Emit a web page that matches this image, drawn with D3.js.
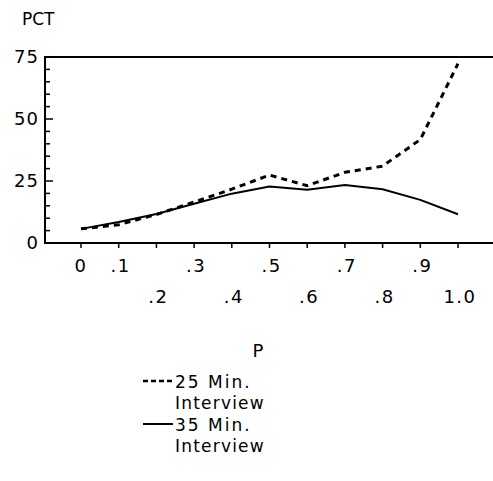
<!DOCTYPE html>
<html>
<head>
<meta charset="utf-8">
<script src="https://cdn.jsdelivr.net/npm/d3@7"></script>
<style>
  body { margin: 0; background: #fff; }
  text { font-family: "DejaVu Sans", sans-serif; fill: #000; }
</style>
</head>
<body>
<div id="myDiv"></div>
<script>
// Chart data
var pValues = [0, .1, .2, .3, .4, .5, .6, .7, .8, .9, 1.0];
var pct25 = [5.7, 7.4, 11.5, 16.5, 21.7, 27.4, 23.1, 28.5, 31.0, 41.7, 72.3];
var pct35 = [5.7, 8.5, 11.7, 15.8, 19.9, 22.8, 21.5, 23.4, 21.7, 17.4, 11.6];
var tickLabels = ["0", ".1", ".2", ".3", ".4", ".5", ".6", ".7", ".8", ".9", "1.0"];
var yTicks = [0, 25, 50, 75];
var seriesNames = ["25 Min.", "35 Min."];

var width = 493, height = 481;

var svg = d3.select("#myDiv")
    .append("svg")
    .attr("width", width)
    .attr("height", height);

// Scales
var x = d3.scaleLinear().domain([0, 1]).range([81, 458]);
var y = d3.scaleLinear().domain([0, 75]).range([243, 57]);

// Frame of the plot
svg.append("path")
    .attr("d", "M" + width + "," + y(75) + "H45V" + y(0) + "H" + width)
    .attr("fill", "none")
    .attr("stroke", "#000")
    .attr("stroke-width", 2);

// Y ticks point inward
var yMinor = d3.range(0, 76, 5);
svg.selectAll(".ytick")
    .data(yMinor)
    .enter().append("line")
    .attr("x1", 45)
    .attr("x2", function (d) { return d % 25 === 0 ? 53 : 50; })
    .attr("y1", function (d) { return y(d); })
    .attr("y2", function (d) { return y(d); })
    .attr("stroke", "#000")
    .attr("stroke-width", 1.5);

svg.selectAll(".ylabel")
    .data(yTicks)
    .enter().append("text")
    .attr("x", 39)
    .attr("y", function (d) { return y(d); })
    .attr("dy", "0.35em")
    .attr("text-anchor", "end")
    .attr("font-size", "18px")
    .attr("letter-spacing", "1px")
    .text(function (d) { return d; });

// X ticks below the axis
svg.selectAll(".xtick")
    .data(pValues)
    .enter().append("line")
    .attr("x1", function (d) { return x(d); })
    .attr("x2", function (d) { return x(d); })
    .attr("y1", y(0))
    .attr("y2", y(0) + 5)
    .attr("stroke", "#000")
    .attr("stroke-width", 1.5);

// Labels alternate between two rows
svg.selectAll(".xlabel")
    .data(pValues)
    .enter().append("text")
    .attr("x", function (d, i) { return x(d) + (i === 0 ? 0 : 2); })
    .attr("y", function (d, i) { return i % 2 === 0 && i > 0 ? 303 : 272; })
    .attr("text-anchor", "middle")
    .attr("font-size", "18px")
    .attr("letter-spacing", "1.5px")
    .text(function (d, i) { return tickLabels[i]; });

// Axis titles
svg.append("text")
    .attr("x", 22)
    .attr("y", 25)
    .attr("font-size", "17px")
    .text("PCT");

svg.append("text")
    .attr("x", 258)
    .attr("y", 357)
    .attr("text-anchor", "middle")
    .attr("font-size", "18px")
    .text("P");

// Lines
var line = d3.line()
    .x(function (d, i) { return x(pValues[i]); })
    .y(function (d) { return y(d); });

svg.append("path")
    .datum(pct25)
    .attr("d", line)
    .attr("fill", "none")
    .attr("stroke", "#000")
    .attr("stroke-width", 3)
    .attr("stroke-dasharray", "6,5");

svg.append("path")
    .datum(pct35)
    .attr("d", line)
    .attr("fill", "none")
    .attr("stroke", "#000")
    .attr("stroke-width", 2);

// Legend
var legendItems = svg.selectAll(".legend-item")
    .data(seriesNames)
    .enter().append("g")
    .attr("class", "legend-item")
    .attr("transform", function (d, i) { return "translate(0," + (i * 43) + ")"; });

legendItems.append("line")
    .attr("x1", 143)
    .attr("x2", 173)
    .attr("y1", 381)
    .attr("y2", 381)
    .attr("stroke", "#000")
    .attr("stroke-width", function (d, i) { return i === 0 ? 2.5 : 2; })
    .attr("stroke-dasharray", function (d, i) { return i === 0 ? "5,3" : null; });

legendItems.append("text")
    .attr("x", 175)
    .attr("y", 388)
    .attr("font-size", "17px")
    .attr("letter-spacing", "2px")
    .text(function (d) { return d; });

legendItems.append("text")
    .attr("x", 175)
    .attr("y", 409)
    .attr("font-size", "17px")
    .attr("letter-spacing", "1.2px")
    .text("Interview");
</script>
</body>
</html>
